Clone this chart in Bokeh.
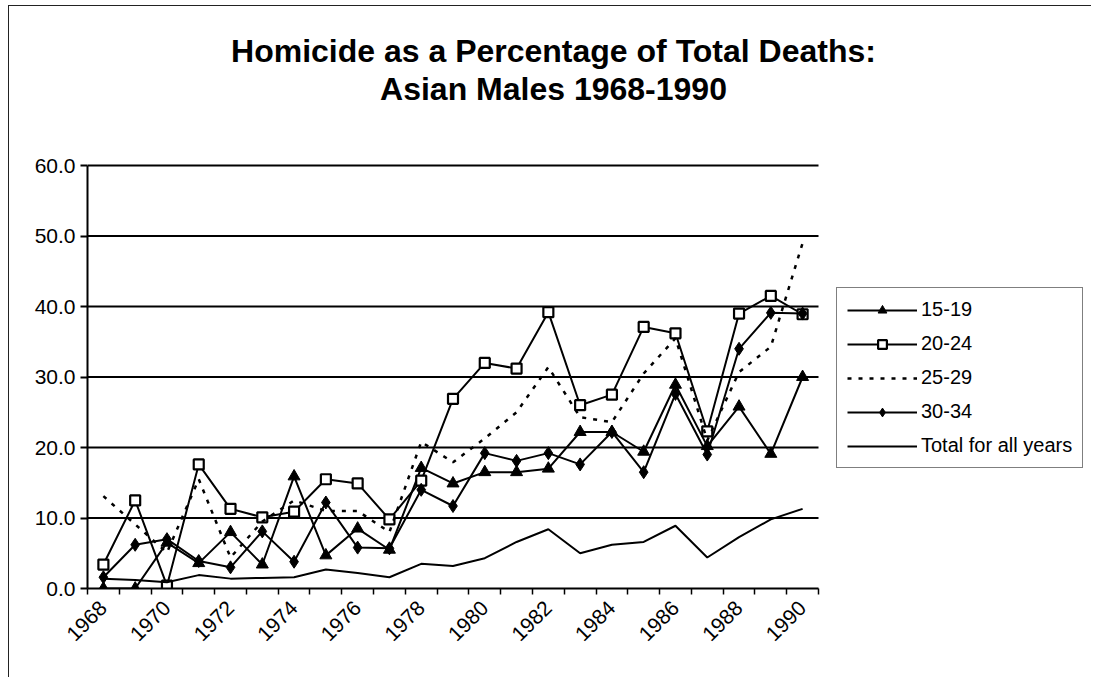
import math
from bokeh.plotting import figure
from bokeh.models import Range1d, FixedTicker, NumeralTickFormatter, Legend, LegendItem, Label
from bokeh.embed import file_html
from bokeh.resources import INLINE

# ---- data ----
years = list(range(1968, 1991))
s15_19 = [0.0, 0.0, 6.5, 3.6, 8.0, 3.4, 15.9, 4.7, 8.5, 5.5, 17.1, 14.9, 16.5, 16.5, 17.0,
          22.2, 22.2, 19.4, 28.9, 20.2, 25.8, 19.1, 30.0]
s20_24 = [3.4, 12.5, 0.4, 17.6, 11.3, 10.1, 10.9, 15.5, 14.9, 9.8, 15.3, 26.9, 32.0, 31.2, 39.2,
          26.0, 27.5, 37.1, 36.2, 22.3, 39.0, 41.5, 38.9]
s25_29 = [13.1, 9.1, 5.1, 15.5, 4.4, 9.5, 12.5, 11.0, 11.0, 8.0, 20.8, 17.9, 21.3, 25.0, 31.4,
          24.3, 23.6, 30.5, 35.5, 21.0, 30.7, 34.3, 49.0]
s30_34 = [1.6, 6.2, 7.0, 3.9, 3.0, 8.1, 3.8, 12.2, 5.8, 5.7, 14.0, 11.7, 19.2, 18.1, 19.2,
          17.6, 22.2, 16.5, 27.6, 19.0, 34.0, 39.1, 39.0]
total = [1.4, 1.2, 0.9, 1.9, 1.4, 1.5, 1.6, 2.7, 2.2, 1.6, 3.5, 3.2, 4.3, 6.6, 8.4,
         5.0, 6.2, 6.6, 8.9, 4.4, 7.3, 9.8, 11.3]
series_names = ["15-19", "20-24", "25-29", "30-34", "Total for all years"]
label_years = [1968, 1970, 1972, 1974, 1976, 1978, 1980, 1982, 1984, 1986, 1988, 1990]
x_tick_labels = ["1968", "1970", "1972", "1974", "1976", "1978", "1980", "1982", "1984",
                 "1986", "1988", "1990"]
y_ticks = [0, 10, 20, 30, 40, 50, 60]
title_lines = ["Homicide as a Percentage of Total Deaths:", "Asian Males 1968-1990"]

FONT = "Liberation Sans"

# ---- layout geometry (page pixels) ----
OFF_X, OFF_Y = 9, 6            # canvas origin on the page (margin + border)
W, H = 1083, 672
PLOT_L, PLOT_R, PLOT_T, PLOT_B = 87, 818, 165, 588   # value area on page
FRAME_R, FRAME_T = 1088, 8                           # frame extends to hold title/legend
x0, x1 = years[0] - 0.5, years[-1] + 0.5
y0, y1 = y_ticks[0], y_ticks[-1]
px_x = (PLOT_R - PLOT_L) / (x1 - x0)
px_y = (PLOT_B - PLOT_T) / (y1 - y0)

def dx(px):
    return x0 + (px - PLOT_L) / px_x

def dy(py):
    return y0 + (PLOT_B - py) / px_y

p = figure(width=W, height=H, output_backend="svg", toolbar_location=None,
           x_range=Range1d(x0, dx(FRAME_R)), y_range=Range1d(y0, dy(FRAME_T)),
           styles={"margin-left": "8px", "margin-top": "5px",
                   "border-left": "1px solid #222", "border-top": "1px solid #222"})
p.min_border_left = PLOT_L - OFF_X
p.min_border_right = W - (FRAME_R - OFF_X)
p.min_border_top = FRAME_T - OFF_Y
p.min_border_bottom = H - (PLOT_B - OFF_Y)
p.outline_line_color = None
p.background_fill_color = "white"
p.border_fill_color = "white"
p.xgrid.visible = False
p.ygrid.visible = False

# horizontal gridlines only across the value area
grid_y = y_ticks[1:]
p.segment(x0=[x0] * len(grid_y), y0=grid_y, x1=[x1] * len(grid_y), y1=grid_y,
          line_color="black", line_width=2.2)

# y axis
p.yaxis.bounds = (y0, y1)
p.yaxis.ticker = FixedTicker(ticks=y_ticks)
p.yaxis.formatter = NumeralTickFormatter(format="0.0")
p.yaxis.axis_line_color = "black"
p.yaxis.axis_line_width = 2
p.yaxis.major_tick_line_color = "black"
p.yaxis.major_tick_line_width = 2
p.yaxis.major_tick_out = 7
p.yaxis.major_tick_in = 0
p.yaxis.minor_tick_line_color = None
p.yaxis.major_label_standoff = 5
p.yaxis.major_label_text_font = FONT
p.yaxis.major_label_text_font_size = "21px"
p.yaxis.major_label_text_color = "black"

# x axis (category-style: ticks between years, labels every other year)
minor = [x0 + i for i in range(len(years) + 1)]
p.xaxis.bounds = (x0, x1)
p.xaxis.ticker = FixedTicker(ticks=label_years, minor_ticks=minor)
p.xaxis.major_label_overrides = {y: t for y, t in zip(label_years, x_tick_labels)}
p.xaxis.axis_line_color = "black"
p.xaxis.axis_line_width = 2
p.xaxis.major_tick_out = 0
p.xaxis.major_tick_in = 0
p.xaxis.minor_tick_line_color = "black"
p.xaxis.minor_tick_line_width = 1.5
p.xaxis.minor_tick_out = 6
p.xaxis.minor_tick_in = 0
p.xaxis.major_label_orientation = math.pi / 4
p.xaxis.major_label_standoff = 10
p.xaxis.major_label_text_font = FONT
p.xaxis.major_label_text_font_size = "21px"
p.xaxis.major_label_text_color = "black"

# series
r1l = p.line(years, s15_19, line_color="black", line_width=2)
r1m = p.scatter(years, s15_19, marker="triangle", size=12, fill_color="black", line_color="black")
r2l = p.line(years, s20_24, line_color="black", line_width=2)
r2m = p.scatter(years, s20_24, marker="square", size=10, fill_color="white", line_color="black",
                line_width=2.2)
r3l = p.line(years, s25_29, line_color="black", line_width=2.5, line_dash="4 7")
r4l = p.line(years, s30_34, line_color="black", line_width=2)
r4m = p.scatter(years, s30_34, marker="diamond", size=13, fill_color="black", line_color="black")
r5l = p.line(years, total, line_color="black", line_width=2)

LEG_L, LEG_B = 836, 468
legend = Legend(items=[
    LegendItem(label=series_names[0], renderers=[r1l, r1m]),
    LegendItem(label=series_names[1], renderers=[r2l, r2m]),
    LegendItem(label=series_names[2], renderers=[r3l]),
    LegendItem(label=series_names[3], renderers=[r4l, r4m]),
    LegendItem(label=series_names[4], renderers=[r5l]),
], location=(LEG_L - PLOT_L, PLOT_B - LEG_B))
legend.border_line_color = "black"
legend.border_line_width = 1.5
legend.background_fill_color = "white"
legend.background_fill_alpha = 1
legend.padding = 10
legend.spacing = 11
legend.margin = 0
legend.glyph_width = 70
legend.glyph_height = 22
legend.label_height = 22
legend.label_standoff = 4
legend.label_text_font = FONT
legend.label_text_font_size = "20px"
legend.label_text_color = "black"
p.add_layout(legend, "center")

# two-line centered title
TITLE_CX = 553
for line, py in zip(title_lines, [50, 88]):
    p.add_layout(Label(x=dx(TITLE_CX), y=dy(py), text=line, text_align="center",
                       text_baseline="middle", text_font=FONT, text_font_size="32px",
                       text_font_style="bold", text_color="black"))

open("out.html", "w").write(file_html(p, INLINE))
